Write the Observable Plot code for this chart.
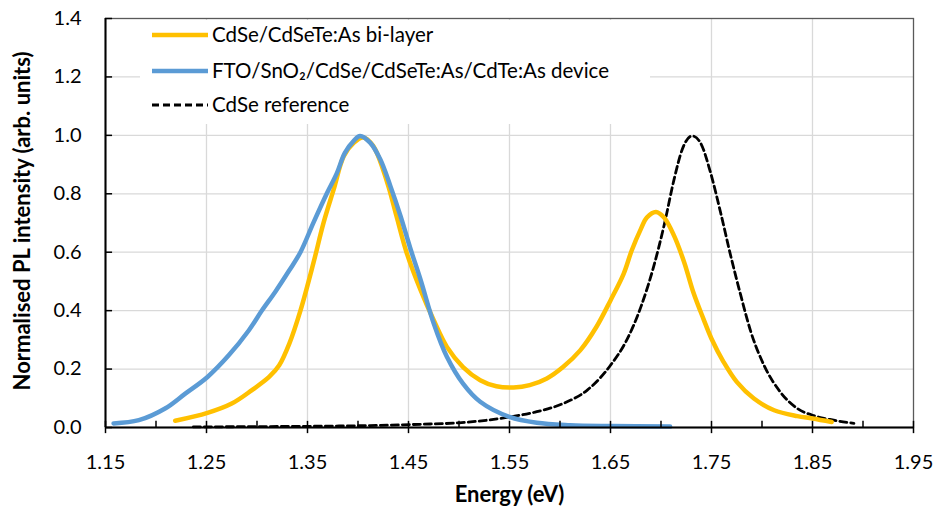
<!DOCTYPE html>
<html><head><meta charset="utf-8">
<script src="https://cdn.jsdelivr.net/npm/d3@7"></script>
<script src="https://cdn.jsdelivr.net/npm/@observablehq/plot@0.6"></script>
<style>body{margin:0;background:#fff;} svg{display:block;}</style>
</head><body><div id="chart"></div>
<script>
const seriesNames = ["CdSe/CdSeTe:As bi-layer", "FTO/SnO\u2082/CdSe/CdSeTe:As/CdTe:As device", "CdSe reference"];
const bilayerE = [1.219,1.251,1.275,1.295,1.312,1.322,1.332,1.343,1.356,1.366,1.376,1.386,1.396,1.405,1.415,1.429,1.438,1.448,1.462,1.475,1.488,1.504,1.521,1.537,1.554,1.570,1.587,1.603,1.620,1.636,1.650,1.663,1.671,1.680,1.686,1.695,1.703,1.713,1.723,1.732,1.742,1.750,1.762,1.775,1.792,1.812,1.835,1.850,1.869];
const bilayerI = [0.023,0.050,0.082,0.128,0.173,0.213,0.287,0.400,0.565,0.702,0.816,0.929,0.975,0.993,0.964,0.838,0.725,0.600,0.470,0.367,0.276,0.207,0.162,0.141,0.137,0.145,0.168,0.207,0.264,0.344,0.435,0.526,0.606,0.679,0.719,0.738,0.719,0.656,0.565,0.463,0.372,0.304,0.224,0.156,0.099,0.059,0.039,0.031,0.019];
const deviceE = [1.158,1.183,1.209,1.229,1.251,1.272,1.292,1.305,1.318,1.332,1.343,1.356,1.369,1.379,1.387,1.396,1.402,1.412,1.422,1.432,1.442,1.452,1.462,1.475,1.488,1.504,1.521,1.550,1.577,1.610,1.650,1.709];
const deviceI = [0.014,0.025,0.065,0.116,0.173,0.247,0.333,0.401,0.464,0.538,0.600,0.702,0.800,0.870,0.940,0.982,0.998,0.975,0.918,0.827,0.725,0.611,0.505,0.356,0.242,0.150,0.088,0.036,0.016,0.008,0.005,0.003];
const refE = [1.237,1.30,1.35,1.40,1.4616,1.50,1.55,1.577,1.603,1.627,1.65,1.666,1.680,1.693,1.703,1.713,1.721,1.731,1.739,1.749,1.759,1.769,1.779,1.789,1.802,1.818,1.835,1.850,1.871,1.891];
const refI = [0.002,0.003,0.004,0.006,0.011,0.016,0.036,0.054,0.082,0.128,0.213,0.299,0.412,0.554,0.691,0.850,0.952,0.998,0.975,0.873,0.736,0.588,0.452,0.327,0.213,0.122,0.065,0.042,0.025,0.014];
const xMajor = [1.15,1.25,1.35,1.45,1.55,1.65,1.75,1.85,1.95];
const xMinor = [1.20,1.30,1.40,1.50,1.60,1.70,1.80,1.90];
const yTicks = [0,0.2,0.4,0.6,0.8,1.0,1.2,1.4];
const xLabel = "Energy (eV)";
const yLabel = "Normalised PL intensity (arb. units)";

const colors = ["#FFC000", "#5B9BD5", "#000000"];
const bilayer = bilayerE.map((e,i)=>({e, v: bilayerI[i]}));
const device = deviceE.map((e,i)=>({e, v: deviceI[i]}));
const ref = refE.map((e,i)=>({e, v: refI[i]}));
const FONT = "Lato, 'Open Sans', sans-serif";

const chart = Plot.plot({
  width: 940, height: 515,
  marginLeft: 105, marginRight: 27, marginTop: 18, marginBottom: 88,
  style: {fontFamily: FONT, fontSize: "20px", background: "#fff"},
  x: {domain: [1.15, 1.95]},
  y: {domain: [0, 1.4]},
  marks: [
    Plot.gridX(xMajor.slice(1, -1), {stroke: "#d9d9d9", strokeOpacity: 1, strokeWidth: 1.3}),
    Plot.gridY(yTicks.slice(1, -1), {stroke: "#d9d9d9", strokeOpacity: 1, strokeWidth: 1.3}),
    Plot.frame({stroke: "#595959", strokeWidth: 1.3}),
    Plot.line(ref, {x: "e", y: "v", stroke: colors[2], strokeWidth: 2.8, strokeDasharray: "7,4", curve: "monotone-x"}),
    Plot.line(bilayer, {x: "e", y: "v", stroke: colors[0], strokeWidth: 4.5, curve: "catmull-rom"}),
    Plot.line(device, {x: "e", y: "v", stroke: colors[1], strokeWidth: 4.5, curve: "catmull-rom"}),
    Plot.ruleY([0], {stroke: "#000", strokeWidth: 2}),
    Plot.ruleX([1.15], {stroke: "#000", strokeWidth: 2}),
    Plot.ruleX(xMajor, {x: d => d, y1: -0.021, y2: 0.021, stroke: "#000", strokeWidth: 1.5}),
    Plot.ruleX(xMinor, {x: d => d, y1: 0, y2: 0.021, stroke: "#000", strokeWidth: 1.5}),
    Plot.ruleY(yTicks, {y: d => d, x1: 1.15, x2: 1.157, stroke: "#000", strokeWidth: 1.5}),
    Plot.axisX(xMajor, {tickSize: 0, tickPadding: 27, tickFormat: d3.format(".2f"), fontSize: 20, label: null, fill: "#000"}),
    Plot.axisY(yTicks, {tickSize: 0, tickPadding: 24, tickFormat: d3.format(".1f"), fontSize: 20, label: null, fill: "#000"}),
    Plot.text([xLabel], {frameAnchor: "bottom", dy: 74, fontSize: 22, fontWeight: "bold", fill: "#000", textAnchor: "middle"}),
    Plot.text([yLabel], {frameAnchor: "left", dx: -83, dy: -2, rotate: -90, fontSize: 22, fontWeight: "bold", fill: "#000", textAnchor: "middle"})
  ]
});
document.getElementById("chart").appendChild(chart);

// legend
const svg = d3.select(chart);
const lg = svg.append("g");
lg.append("rect").attr("x", 140).attr("y", 20).attr("width", 510).attr("height", 104).attr("fill", "#fff");
const rows = [35, 71, 105];
seriesNames.forEach((name, i) => {
  lg.append("line").attr("x1", 152).attr("x2", 208).attr("y1", rows[i]).attr("y2", rows[i])
    .attr("stroke", colors[i]).attr("stroke-width", i < 2 ? 4.5 : 2.8)
    .attr("stroke-dasharray", i === 2 ? "7,4" : null);
  lg.append("text").attr("x", 212).attr("y", rows[i]).attr("dy", "0.35em")
    .attr("text-anchor", "start")
    .attr("font-family", FONT).attr("font-size", 20.5).attr("fill", "#000").text(name);
});
</script></body></html>
